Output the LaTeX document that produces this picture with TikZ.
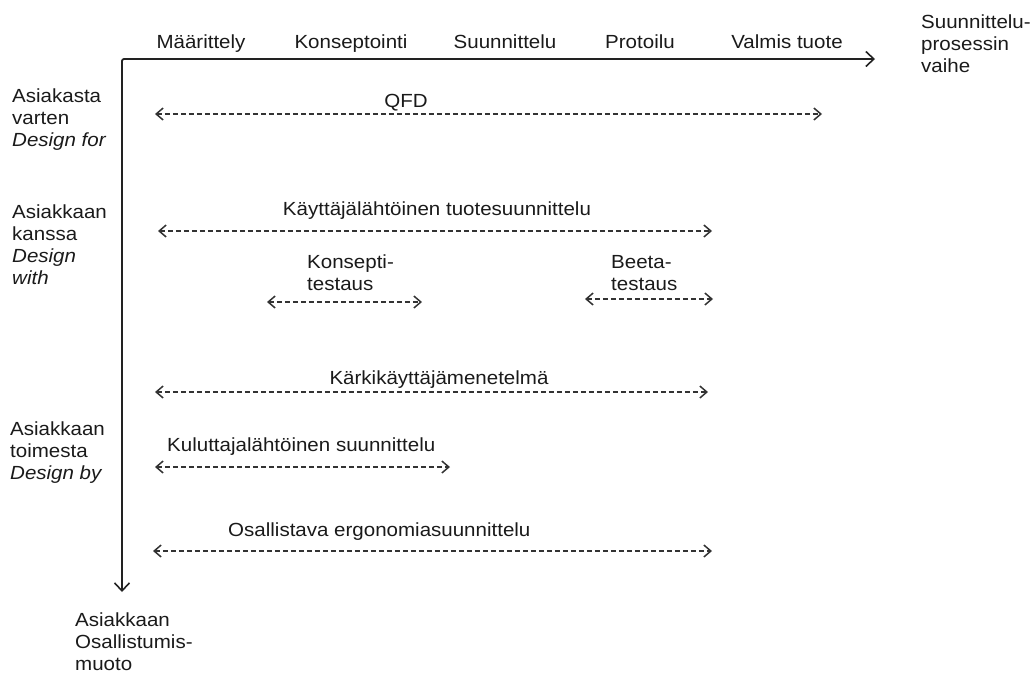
\documentclass[tikz,border=0pt]{standalone}
\usepackage{fontspec}
\setmainfont{Liberation Sans}[FakeStretch=1.08]
\usetikzlibrary{arrows.meta}
\definecolor{txt}{HTML}{1A1A1A}
\definecolor{axcol}{HTML}{222222}
\definecolor{dashcol}{HTML}{333333}
\begin{document}
\begin{tikzpicture}[x=1pt,y=-1pt,
  lbl/.style={font=\fontsize{19}{22}\selectfont, text=txt, inner sep=0pt},
  multi/.style={lbl, align=left, anchor=north west},
  axis/.style={draw=axcol, line width=1.8pt, rounded corners=2pt,
    {Straight Barb[length=8pt,width=15pt,line width=1.6pt]}-{Straight Barb[length=8pt,width=15pt,line width=1.6pt]}},
  span/.style={draw=dashcol, line width=1.5pt, dash pattern=on 5pt off 3pt,
    {Straight Barb[length=7pt,width=12pt,line width=1.5pt]}-{Straight Barb[length=7pt,width=12pt,line width=1.5pt]}}]
\useasboundingbox (0,0) rectangle (1035,673);

% axes
\coordinate (O) at (122,59);
\coordinate (xend) at (875,59);
\coordinate (yend) at (122,592);
\draw[axis] (xend) -- (O) -- (yend);

% process phases
\node[lbl, anchor=base] (p1) at (201,48) {Määrittely};
\node[lbl, anchor=base] (p2) at (351,48) {Konseptointi};
\node[lbl, anchor=base] (p3) at (505,48) {Suunnittelu};
\node[lbl, anchor=base] (p4) at (640,48) {Protoilu};
\node[lbl, anchor=base] (p5) at (787,48) {Valmis tuote};
\node[multi] (xlbl) at (921,15) {Suunnittelu-\\prosessin\\vaihe};

% participation modes
\node[multi] (forlbl) at (12,89) {Asiakasta\\varten\\\textit{Design for}};
\node[multi] (withlbl) at (12,205) {Asiakkaan\\kanssa\\\textit{Design}\\\textit{with}};
\node[multi] (bylbl) at (10,422) {Asiakkaan\\toimesta\\\textit{Design by}};
\node[multi] (ylbl) at (75,613) {Asiakkaan\\Osallistumis-\\muoto};

% methods and their spans
\node[lbl, anchor=base] (qfd) at (406,107) {QFD};
\coordinate (qfdL) at (155,114); \coordinate (qfdR) at (822,114);
\draw[span] (qfdL) -- (qfdR);

\node[lbl, anchor=base] (kt) at (437,215) {Käyttäjälähtöinen tuotesuunnittelu};
\coordinate (ktL) at (158,231); \coordinate (ktR) at (712,231);
\draw[span] (ktL) -- (ktR);

\node[multi] (kon) at (307,255) {Konsepti-\\testaus};
\coordinate (konL) at (267,302); \coordinate (konR) at (422,302);
\draw[span] (konL) -- (konR);

\node[multi] (beeta) at (611,255) {Beeta-\\testaus};
\coordinate (beetaL) at (585,299); \coordinate (beetaR) at (713,299);
\draw[span] (beetaL) -- (beetaR);

\node[lbl, anchor=base] (karki) at (439,384) {Kärkikäyttäjämenetelmä};
\coordinate (karkiL) at (155,392); \coordinate (karkiR) at (708,392);
\draw[span] (karkiL) -- (karkiR);

\node[lbl, anchor=base west] (kulu) at (167,451) {Kuluttajalähtöinen suunnittelu};
\coordinate (kuluL) at (155,467); \coordinate (kuluR) at (450,467);
\draw[span] (kuluL) -- (kuluR);

\node[lbl, anchor=base west] (osal) at (228,536) {Osallistava ergonomiasuunnittelu};
\coordinate (osalL) at (153,551); \coordinate (osalR) at (712,551);
\draw[span] (osalL) -- (osalR);
\end{tikzpicture}
\end{document}
